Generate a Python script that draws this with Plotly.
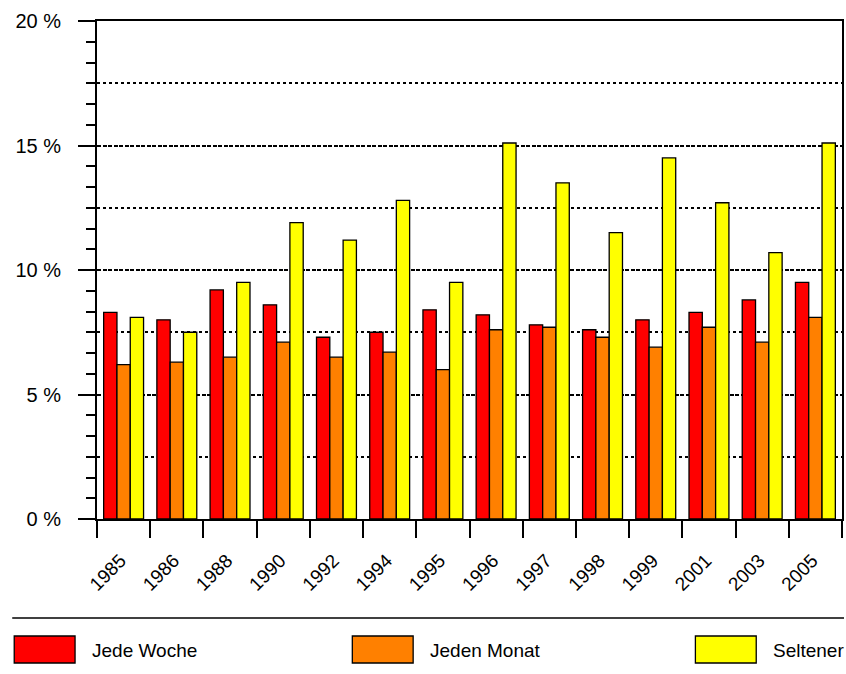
import plotly.graph_objects as go

years = ["1985", "1986", "1988", "1990", "1992", "1994", "1995", "1996",
         "1997", "1998", "1999", "2001", "2003", "2005"]
jede_woche = [8.3, 8.0, 9.2, 8.6, 7.3, 7.5, 8.4, 8.2, 7.8, 7.6, 8.0, 8.3, 8.8, 9.5]
jeden_monat = [6.2, 6.3, 6.5, 7.1, 6.5, 6.7, 6.0, 7.6, 7.7, 7.3, 6.9, 7.7, 7.1, 8.1]
seltener = [8.1, 7.5, 9.5, 11.9, 11.2, 12.8, 9.5, 15.1, 13.5, 11.5, 14.5, 12.7, 10.7, 15.1]
series_names = ["Jede Woche", "Jeden Monat", "Seltener"]
series_colors = ["#FF0000", "#FF8000", "#FFFF00"]
y_ticks = [0, 5, 10, 15, 20]
y_tick_labels = ["0 %", "5 %", "10 %", "15 %", "20 %"]

W, H = 846, 674
L, R, T, B = 97, 844, 21, 519
FONT = "Liberation Sans, Arial, sans-serif"


def px(x):
    return (x - L) / (R - L)


def py(y):
    return (B - y) / (B - T)


fig = go.Figure()
for name, vals, col in zip(series_names, [jede_woche, jeden_monat, seltener], series_colors):
    fig.add_trace(go.Bar(
        x=years, y=vals, name=name,
        marker=dict(color=col, line=dict(color="black", width=1.3)),
        showlegend=False,
    ))

# invisible trace for secondary grid axis
fig.add_trace(go.Scatter(x=[years[0]], y=[0], yaxis="y2", mode="markers",
                         marker=dict(opacity=0), showlegend=False, hoverinfo="skip"))

fig.update_layout(
    width=W, height=H,
    margin=dict(l=L, r=W - R, t=T, b=H - B, pad=0),
    paper_bgcolor="white", plot_bgcolor="white",
    font=dict(family=FONT, size=19, color="black"),
    barmode="group", bargap=0.25, bargroupgap=0,
    xaxis=dict(
        type="category", range=[-0.5, len(years) - 0.5],
        tickson="boundaries", ticks="outside", ticklen=17,
        tickwidth=1.5, tickcolor="black", showline=True, linecolor="black",
        linewidth=2, mirror=True, showgrid=False, tickangle=-45,
        ticklabelstandoff=21, ticklabelshift=-3,
        tickfont=dict(size=19, family=FONT),
    ),
    yaxis=dict(
        range=[0, 20], tickvals=y_ticks, ticktext=y_tick_labels,
        ticks="outside", ticklen=17, tickwidth=1.5, tickcolor="black",
        showline=True, linecolor="black", linewidth=2, mirror=True,
        showgrid=True, gridcolor="black", gridwidth=1.5, griddash="4px,1.5px",
        zeroline=False, ticklabelstandoff=13,
        minor=dict(dtick=5 / 6, tick0=0, ticks="outside", ticklen=9,
                   tickwidth=1.5, tickcolor="black", showgrid=False),
        tickfont=dict(size=20, family=FONT),
    ),
    yaxis2=dict(
        overlaying="y", range=[0, 20], tick0=2.5, dtick=5, showgrid=True,
        gridcolor="black", gridwidth=1.5, griddash="dot", showticklabels=False,
        ticks="", showline=False, zeroline=False, side="left",
    ),
)

shapes = [dict(type="line", xref="paper", yref="paper",
               x0=px(12), x1=px(846), y0=py(618), y1=py(618),
               line=dict(color="black", width=1.5))]
annotations = []
box_x = [14, 353, 697]
for name, col, bx in zip(series_names, series_colors, box_x):
    shapes.append(dict(type="rect", xref="paper", yref="paper",
                       x0=px(bx), x1=px(bx + 61), y0=py(636), y1=py(663),
                       fillcolor=col, line=dict(color="black", width=1.3)))
    annotations.append(dict(xref="paper", yref="paper", x=px(bx + 76), y=py(650),
                            text=name, showarrow=False, xanchor="left",
                            yanchor="middle", font=dict(size=19, family=FONT)))
fig.update_layout(shapes=shapes, annotations=annotations)

fig.write_html("out.html", config={"displayModeBar": False},
               post_script="document.body.style.margin='0px';")
